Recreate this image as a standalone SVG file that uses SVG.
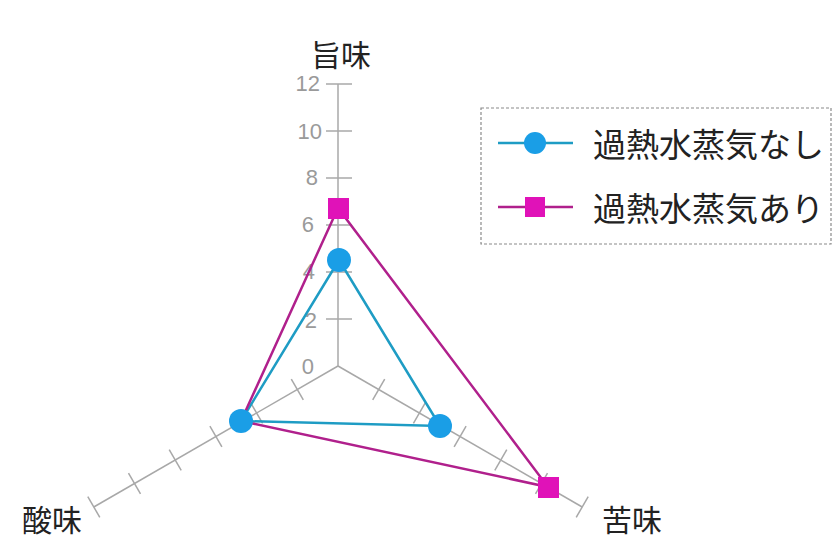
<svg xmlns="http://www.w3.org/2000/svg" width="833" height="541" viewBox="0 0 833 541">
<style>
.ax{stroke:#a8a8a8;stroke-width:1.5;fill:none}
.tk{stroke:#a8a8a8;stroke-width:1.5}
.num{font-family:"Liberation Sans","Noto Sans",sans-serif;font-size:22px;fill:#9a9a9a;text-anchor:end}
.lab{font-family:"Noto Sans CJK JP","Noto Sans CJK SC",sans-serif;font-size:30px;fill:#222}
.leg{font-family:"Noto Sans CJK JP","Noto Sans CJK SC",sans-serif;font-size:33px;fill:#222}
.s1{stroke:#1e9cc4;stroke-width:2.5;fill:none}
.s2{stroke:#b0208c;stroke-width:2.5;fill:none}
.m1{fill:#1a9ee6}
.m2{fill:#e012b8}
</style>
<rect width="833" height="541" fill="#ffffff"/>
<g id="axes">
<line class="ax" x1="338" y1="366" x2="338" y2="84"/>
<line class="ax" x1="338" y1="366" x2="93.8" y2="507"/>
<line class="ax" x1="338" y1="366" x2="582.2" y2="507"/>
<g class="tk">
<line x1="326" y1="319" x2="352" y2="319"/>
<line x1="326" y1="272" x2="352" y2="272"/>
<line x1="326" y1="225" x2="352" y2="225"/>
<line x1="326" y1="178" x2="352" y2="178"/>
<line x1="326" y1="131" x2="352" y2="131"/>
<line x1="326" y1="84" x2="352" y2="84"/>
<line x1="291.3" y1="379.1" x2="303.3" y2="399.9"/>
<line x1="250.6" y1="402.6" x2="262.6" y2="423.4"/>
<line x1="209.9" y1="426.1" x2="221.9" y2="446.9"/>
<line x1="169.2" y1="449.6" x2="181.2" y2="470.4"/>
<line x1="128.5" y1="473.1" x2="140.5" y2="493.9"/>
<line x1="87.8" y1="496.6" x2="99.8" y2="517.4"/>
<line x1="384.7" y1="379.1" x2="372.7" y2="399.9"/>
<line x1="425.4" y1="402.6" x2="413.4" y2="423.4"/>
<line x1="466.1" y1="426.1" x2="454.1" y2="446.9"/>
<line x1="506.8" y1="449.6" x2="494.8" y2="470.4"/>
<line x1="547.5" y1="473.1" x2="535.5" y2="493.9"/>
<line x1="588.2" y1="496.6" x2="576.2" y2="517.4"/>
</g>
<text class="num" x="320" y="91">12</text>
<text class="num" x="322" y="139">10</text>
<text class="num" x="318" y="185">8</text>
<text class="num" x="314" y="232">6</text>
<text class="num" x="315" y="279">4</text>
<text class="num" x="317" y="328">2</text>
<text class="num" x="314" y="374">0</text>
</g>
<g id="label-umami"><text class="lab" x="341" y="66" text-anchor="middle">旨味</text></g>
<g id="label-sanmi"><text class="lab" x="52" y="531" text-anchor="middle">酸味</text></g>
<g id="label-nigami"><text class="lab" x="632" y="531" text-anchor="middle">苦味</text></g>
<g id="connectors">
<polygon class="s1" points="339,260 241,421 440,426"/>
<polygon class="s2" points="338,208 241,421 548,487"/>
</g>
<g id="series-nashi">
<circle class="m1" cx="339" cy="260" r="12"/>
<circle class="m1" cx="241" cy="421" r="12"/>
<circle class="m1" cx="440" cy="426" r="12"/>
</g>
<g id="series-ari">
<rect class="m2" x="328" y="198" width="21" height="21"/>
<rect class="m2" x="538" y="477" width="21" height="21"/>
</g>
<g id="legend">
<rect x="481" y="108" width="350" height="136" fill="#ffffff" stroke="#8a8a8a" stroke-width="1.2" stroke-dasharray="3,2"/>
<line class="s1" x1="498" y1="143" x2="573" y2="143"/>
<circle class="m1" cx="535" cy="143" r="11"/>
<text class="leg" x="593" y="157">過熱水蒸気なし</text>
<line class="s2" x1="498" y1="207" x2="573" y2="207"/>
<rect class="m2" x="525" y="197" width="20" height="20"/>
<text class="leg" x="593" y="221">過熱水蒸気あり</text>
</g>
</svg>
